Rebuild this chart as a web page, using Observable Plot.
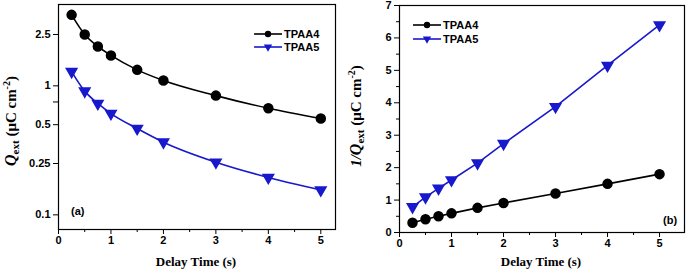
<!DOCTYPE html>
<html>
<head>
<meta charset="utf-8">
<script src="https://cdn.jsdelivr.net/npm/d3@7"></script>
<script src="https://cdn.jsdelivr.net/npm/@observablehq/plot@0.6"></script>
<style>
  body { margin: 0; background: #fff; }
  #wrap { position: relative; width: 688px; height: 273px; overflow: hidden; }
  #a, #b { position: absolute; top: 0; }
  #a { left: 0; }
  #b { left: 344px; }
</style>
</head>
<body>
<div id="wrap"><div id="a"></div><div id="b"></div></div>
<script>
// ---- data ----
const delay = [0.25, 0.5, 0.75, 1, 1.5, 2, 3, 4, 5];
const qTPAA4 = [3.55, 2.5, 2.02, 1.72, 1.33, 1.10, 0.84, 0.67, 0.558];
const qTPAA5 = [1.29, 0.91, 0.73, 0.61, 0.467, 0.366, 0.256, 0.195, 0.156];
const invTPAA4 = [0.30, 0.41, 0.50, 0.59, 0.76, 0.91, 1.20, 1.50, 1.80];
const invTPAA5 = [0.79, 1.09, 1.36, 1.62, 2.14, 2.74, 3.88, 5.15, 6.40];
const seriesNames = ["TPAA4", "TPAA5"];
const xTicks = [0, 1, 2, 3, 4, 5];
const xMinorTicks = [0.5, 1.5, 2.5, 3.5, 4.5];
const yTicksLog = [0.1, 0.25, 0.5, 0.75, 1, 2.5];
const yTicksLin = [0, 1, 2, 3, 4, 5, 6, 7];
const yMinorLin = [0.5, 1.5, 2.5, 3.5, 4.5, 5.5, 6.5];

const BLUE = "#1818cc";
const SANS = "'Liberation Sans', Arial, sans-serif";
const SERIF = "'Liberation Serif', 'Times New Roman', serif";

const rows = (ys, name) => delay.map((d, i) => ({ t: d, v: ys[i], s: name }));
const leftData = [...rows(qTPAA4, seriesNames[0]), ...rows(qTPAA5, seriesNames[1])];
const rightData = [...rows(invTPAA4, seriesNames[0]), ...rows(invTPAA5, seriesNames[1])];

const tickStyle = { fontFamily: SANS, fontWeight: "bold", fontSize: "11px", color: "#000", background: "transparent", overflow: "visible" };

function seriesMarks(data, curve) {
  return [
    Plot.line(data.filter(d => d.s === "TPAA4"), { x: "t", y: "v", stroke: "#000", strokeWidth: 1.6, curve }),
    Plot.line(data.filter(d => d.s === "TPAA5"), { x: "t", y: "v", stroke: BLUE, strokeWidth: 1.6, curve }),
    Plot.dot(data.filter(d => d.s === "TPAA4"), { x: "t", y: "v", r: 4.5, fill: "#000", stroke: "#000", symbol: "circle" }),
    Plot.dot(data.filter(d => d.s === "TPAA5"), { x: "t", y: "v", r: 3.9, fill: BLUE, stroke: BLUE, symbol: "triangle", rotate: 180 })
  ];
}

function yLabel(svg, x, y, prefix) {
  const t = d3.select(svg).append("text")
    .attr("transform", `translate(${x},${y}) rotate(-90)`)
    .attr("text-anchor", "middle")
    .attr("fill", "#000")
    .style("font-family", SERIF).style("font-weight", "bold").style("font-size", "15px");
  if (prefix) t.append("tspan").style("font-style", "italic").text(prefix);
  t.append("tspan").style("font-style", "italic").style("font-size", "16px").text("Q");
  t.append("tspan").attr("dy", 3).style("font-size", "11px").text("ext");
  t.append("tspan").attr("dy", -3).text(" (\u03bcC cm");
  t.append("tspan").attr("dy", -6).style("font-size", "10px").text("-2");
  t.append("tspan").attr("dy", 6).text(")");
}

function xLabel(svg, x, y) {
  d3.select(svg).append("text")
    .attr("x", x).attr("y", y).attr("text-anchor", "middle").attr("fill", "#000")
    .style("font-family", SERIF).style("font-weight", "bold").style("font-size", "13px")
    .text("Delay Time (s)");
}

function legend(svg, x0, y0, dy) {
  const g = d3.select(svg).append("g").attr("text-anchor", "start");
  seriesNames.forEach((name, i) => {
    const y = y0 + i * dy;
    const col = i === 0 ? "#000" : BLUE;
    g.append("line").attr("x1", x0).attr("x2", x0 + 28).attr("y1", y).attr("y2", y)
      .attr("stroke", col).attr("stroke-width", 1.6);
    if (i === 0) {
      g.append("circle").attr("cx", x0 + 14).attr("cy", y).attr("r", 3.2).attr("fill", col);
    } else {
      g.append("path").attr("d", d3.symbol(d3.symbolTriangle, 30)())
        .attr("transform", `translate(${x0 + 14},${y}) rotate(180)`).attr("fill", col);
    }
    g.append("text").attr("x", x0 + 30).attr("y", y).attr("dy", "0.36em").attr("fill", "#000")
      .attr("text-anchor", "start")
      .style("font-family", SANS).style("font-weight", "bold").style("font-size", "11px")
      .text(name);
  });
}

function panelLabel(svg, x, y, txt) {
  d3.select(svg).append("text").attr("x", x).attr("y", y).attr("fill", "#000")
    .attr("text-anchor", "start")
    .style("font-family", SANS).style("font-weight", "bold").style("font-size", "11px").text(txt);
}

// ---- left panel (log) ----
const left = Plot.plot({
  width: 344, height: 273,
  marginLeft: 58, marginRight: 9, marginTop: 4, marginBottom: 44,
  style: tickStyle,
  x: { domain: [0, 5.28] },
  y: { type: "log", domain: [0.077, 4.27] },
  marks: [
    Plot.axisX({ ticks: xTicks, tickSize: 5, tickPadding: 2, label: null, tickFormat: d => String(d) }),
    Plot.axisX({ ticks: xMinorTicks, tickSize: 3, text: null, label: null }),
    Plot.axisY({ ticks: yTicksLog, tickSize: 5, tickPadding: 3, label: null, tickFormat: d => String(d) }),
    ...seriesMarks(leftData, "monotone-x"),
    Plot.frame({ stroke: "#000", strokeWidth: 1.2 })
  ]
});
document.getElementById("a").appendChild(left);
yLabel(left, 16, 121, "");
xLabel(left, 196, 266);
legend(left, 254, 34, 13);
panelLabel(left, 71, 215, "(a)");

// ---- right panel (linear) ----
const right = Plot.plot({
  width: 344, height: 273,
  marginLeft: 55, marginRight: 4, marginTop: 5, marginBottom: 41,
  style: tickStyle,
  x: { domain: [0, 5.48] },
  y: { domain: [0, 7] },
  marks: [
    Plot.axisX({ ticks: xTicks, tickSize: 5, tickPadding: 2, label: null, tickFormat: d => String(d) }),
    Plot.axisX({ ticks: xMinorTicks, tickSize: 3, text: null, label: null }),
    Plot.axisY({ ticks: yTicksLin, tickSize: 5, tickPadding: 3, label: null, tickFormat: d => String(d) }),
    Plot.axisY({ ticks: yMinorLin, tickSize: 3, text: null, label: null }),
    ...seriesMarks(rightData, "linear"),
    Plot.frame({ stroke: "#000", strokeWidth: 1.2 })
  ]
});
document.getElementById("b").appendChild(right);
yLabel(right, 17, 116, "1/");
xLabel(right, 197, 266);
legend(right, 69, 25, 14);
panelLabel(right, 319, 224, "(b)");
</script>
</body>
</html>
